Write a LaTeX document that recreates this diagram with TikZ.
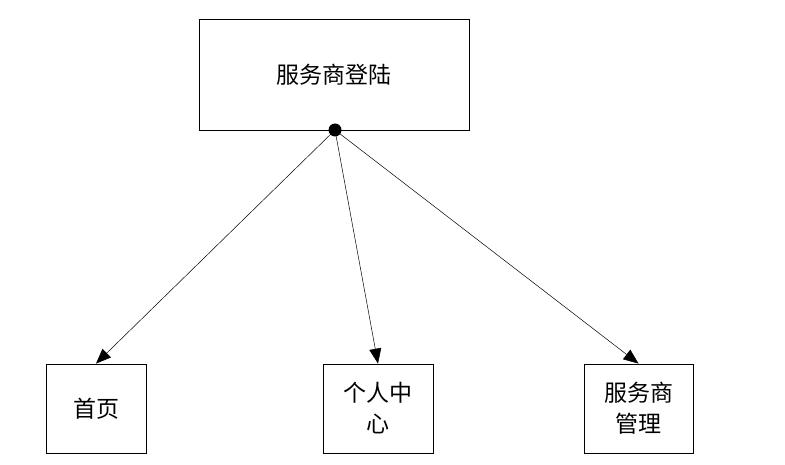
\documentclass[tikz,border=0pt]{standalone}
\usepackage{fontspec}
\newfontfamily\cjk{Noto Sans CJK SC}
\usetikzlibrary{arrows.meta,positioning}
\tikzset{
  pagebox/.style={draw, line width=0.8pt, font=\cjk\fontsize{23}{31}\selectfont,
                  align=center, inner sep=2pt},
  link/.style={-{Triangle[length=15pt,width=12pt]}, line width=0.5pt},
}

\begin{document}
\begin{tikzpicture}[x=1pt,y=-1pt]
\useasboundingbox (0,0) rectangle (785,465);

% Top: login node
\node[pagebox, minimum width=270pt, minimum height=111pt] (login) at (334,74.5) {服务商登陆};
\coordinate (hub) at (335,130);
\fill (hub) circle (6.5pt);

% Bottom row: pages
\node[pagebox, minimum width=100pt, minimum height=89pt] (home) at (96,408.5) {首页};
\node[pagebox, minimum width=110pt, minimum height=89pt] (center) at (378,408.5) {个人中\\心};
\node[pagebox, minimum width=109pt, minimum height=89pt] (manage) at (638.5,408.5) {服务商\\管理};

\draw[link] (hub) -- (home.north);
\draw[link] (hub) -- (center.north);
\draw[link] (hub) -- (manage.north);

\end{tikzpicture}
\end{document}
